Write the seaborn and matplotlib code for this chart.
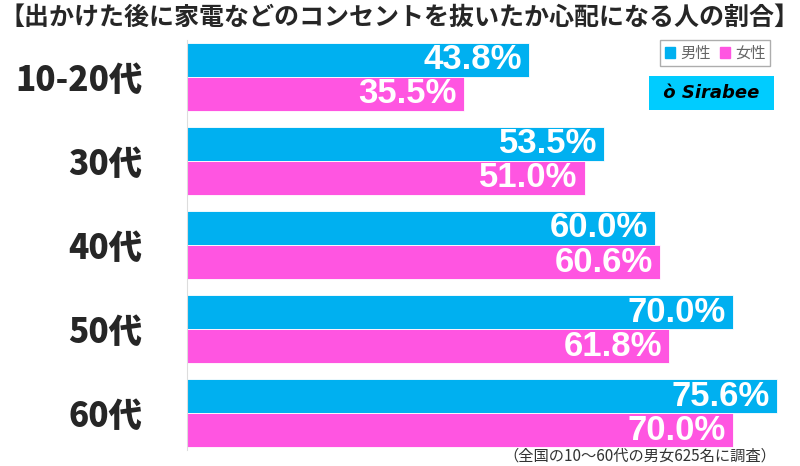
import seaborn as sns
import pandas as pd
import matplotlib.pyplot as plt

# chart data
categories = ["10-20代", "30代", "40代", "50代", "60代"]
male = [43.8, 53.5, 60.0, 70.0, 75.6]
female = [35.5, 51.0, 60.6, 61.8, 70.0]
series_names = ["男性", "女性"]

BLUE = "#00B0F0"
PINK = "#FF55E1"

sns.set_style("white")
plt.rcParams["font.family"] = ["Noto Sans CJK JP", "DejaVu Sans"]

df = pd.DataFrame({
    "cat": categories * 2,
    "val": male + female,
    "sex": [series_names[0]] * len(male) + [series_names[1]] * len(female),
})

fig = plt.figure(figsize=(8, 4.66), dpi=100)
ax = fig.add_axes([187 / 800, 16 / 466, 613 / 800, 410 / 466])

sns.barplot(data=df, x="val", y="cat", hue="sex", orient="h",
            palette=[BLUE, PINK], width=0.81, ax=ax, legend=False,
            saturation=1, edgecolor="white", linewidth=0.6)

ax.set_xlim(0, 613 / 7.8)
ax.set_ylim(4.44, -0.44)
ax.set_xlabel("")
ax.set_ylabel("")
ax.set_xticks([])
ax.tick_params(axis="y", length=0, pad=32)
for lbl in ax.get_yticklabels():
    lbl.set_fontsize(24)
    lbl.set_fontweight("black")
for side in ["top", "right", "bottom"]:
    ax.spines[side].set_visible(False)
ax.spines["left"].set_color("#dddddd")

for cont in ax.containers:
    ax.bar_label(cont, labels=[f"{v:.1f}%" for v in cont.datavalues],
                 padding=-5, label_type="edge", color="white",
                 fontsize=25, fontweight="bold", family="Liberation Sans")
for t in ax.texts:
    t.set_ha("right")

fig.text(0.5, 0.962, "【出かけた後に家電などのコンセントを抜いたか心配になる人の割合】",
         ha="center", va="center", fontsize=18, fontweight="bold")

# legend
handles = [plt.Rectangle((0, 0), 1, 1, color=c) for c in (BLUE, PINK)]
leg = fig.legend(handles, series_names, loc="upper right",
                 bbox_to_anchor=(0.972, 0.93), ncol=2, fontsize=11,
                 handlelength=0.7, handleheight=0.7, handletextpad=0.3,
                 columnspacing=0.6, borderpad=0.3, fancybox=False,
                 edgecolor="#999999", labelcolor="#666666")

# logo
fig.text(0.889, 0.80, " ò Sirabee ", ha="center", va="center",
         fontsize=13, fontweight="bold", style="italic", color="black",
         family="DejaVu Sans",
         bbox=dict(boxstyle="square,pad=0.45", fc="#00CCFF", ec="none"))

fig.text(0.97, 0.022, "（全国の10～60代の男女625名に調査）", ha="right",
         va="center", fontsize=11, color="#333333")

fig.savefig("out.png", dpi=100)
